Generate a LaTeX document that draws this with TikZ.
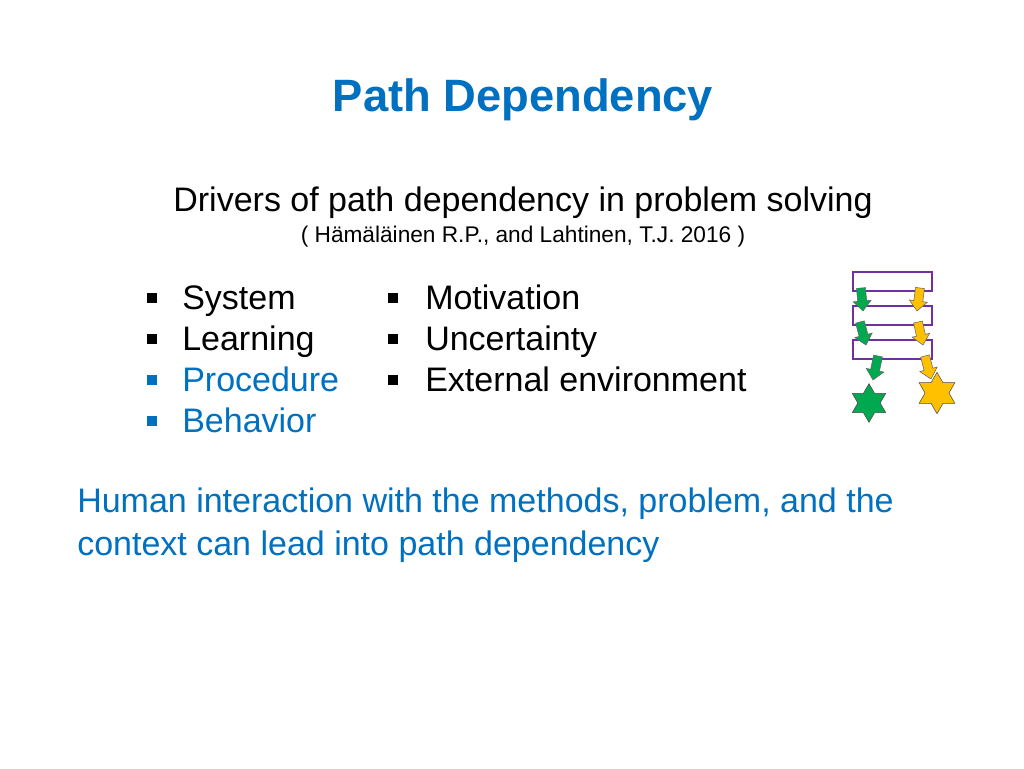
\documentclass[tikz,border=0pt]{standalone}
\usepackage{fontspec}
\setmainfont{Liberation Sans}
\usetikzlibrary{shapes.geometric}
\definecolor{tblue}{HTML}{0070C0}
\definecolor{pur}{HTML}{7030A0}
\definecolor{grn}{HTML}{00A850}
\definecolor{yel}{HTML}{FFC000}
\tikzset{
 bul/.style={fill=#1,minimum size=7.5pt,inner sep=0pt},
 itm/.style={anchor=base west,font=\fontsize{25.5}{30}\selectfont,inner sep=0pt},
 rbox/.style={draw=pur,line width=2.2pt},
 star6/.style={star,star points=6,star point ratio=1.73,minimum size=#1,draw=black!70,thin,inner sep=0pt},
}
\newcommand{\barrow}[5]{%
 \begin{scope}[shift={(#1,#2)}]
 \pgfmathsetmacro{\ang}{atan2(#4-#2,#3-#1)}
 \pgfmathsetmacro{\len}{veclen(#3-#1,#4-#2)}
 \fill[#5,draw=black!60,thin,rotate=-\ang] (0,-4.5)--(\len-10,-4.5)--(\len-10,-9)--(\len,0)--(\len-10,9)--(\len-10,4.5)--(0,4.5)--cycle;
 \end{scope}}
\begin{document}
\begin{tikzpicture}[x=0.75pt,y=-0.75pt]
\useasboundingbox (0,0) rectangle (1024,768);
\node (title) at (523,100) {\fontsize{34}{40}\selectfont\bfseries\color{tblue}Path Dependency};
\node (sub) at (523,203) {\fontsize{25.5}{30}\selectfont Drivers of path dependency in problem solving};
\node (ref) at (523,237) {\fontsize{17}{20}\selectfont ( Hämäläinen R.P., and Lahtinen, T.J. 2016 )};
\foreach \t/\c [count=\i] in {System/black,Learning/black,Procedure/tblue,Behavior/tblue}{
 \node[bul=\c] (b\i) at (152,{298+41*(\i-1)}) {};
 \node[itm,text=\c] (t\i) at (182,{309+41*(\i-1)}) {\t};
}
\foreach \t [count=\i] in {Motivation,Uncertainty,External environment}{
 \node[bul=black] (c\i) at (393,{298+41*(\i-1)}) {};
 \node[itm] (u\i) at (425,{309+41*(\i-1)}) {\t};
}
\node[anchor=base west,align=left,text=tblue,font=\fontsize{25.5}{32}\selectfont,inner sep=0pt] (hum) at (77,555) {Human interaction with the methods, problem, and the\\context can lead into path dependency};
\draw[rbox] (853,272) rectangle (932,291);
\draw[rbox] (853,306) rectangle (932,325);
\draw[rbox] (853,340) rectangle (932,359);
\barrow{861}{288}{863}{311}{grn}
\barrow{860}{322}{866}{345}{grn}
\barrow{878}{356}{873}{380}{grn}
\barrow{920}{288}{917}{311}{yel}
\barrow{918}{322}{923}{345}{yel}
\barrow{925}{356}{931}{379}{yel}
\node[star6=29pt,fill=grn] (s1) at (869,403) {};
\node[star6=31pt,fill=yel] (s2) at (937,393) {};
\end{tikzpicture}
\end{document}
